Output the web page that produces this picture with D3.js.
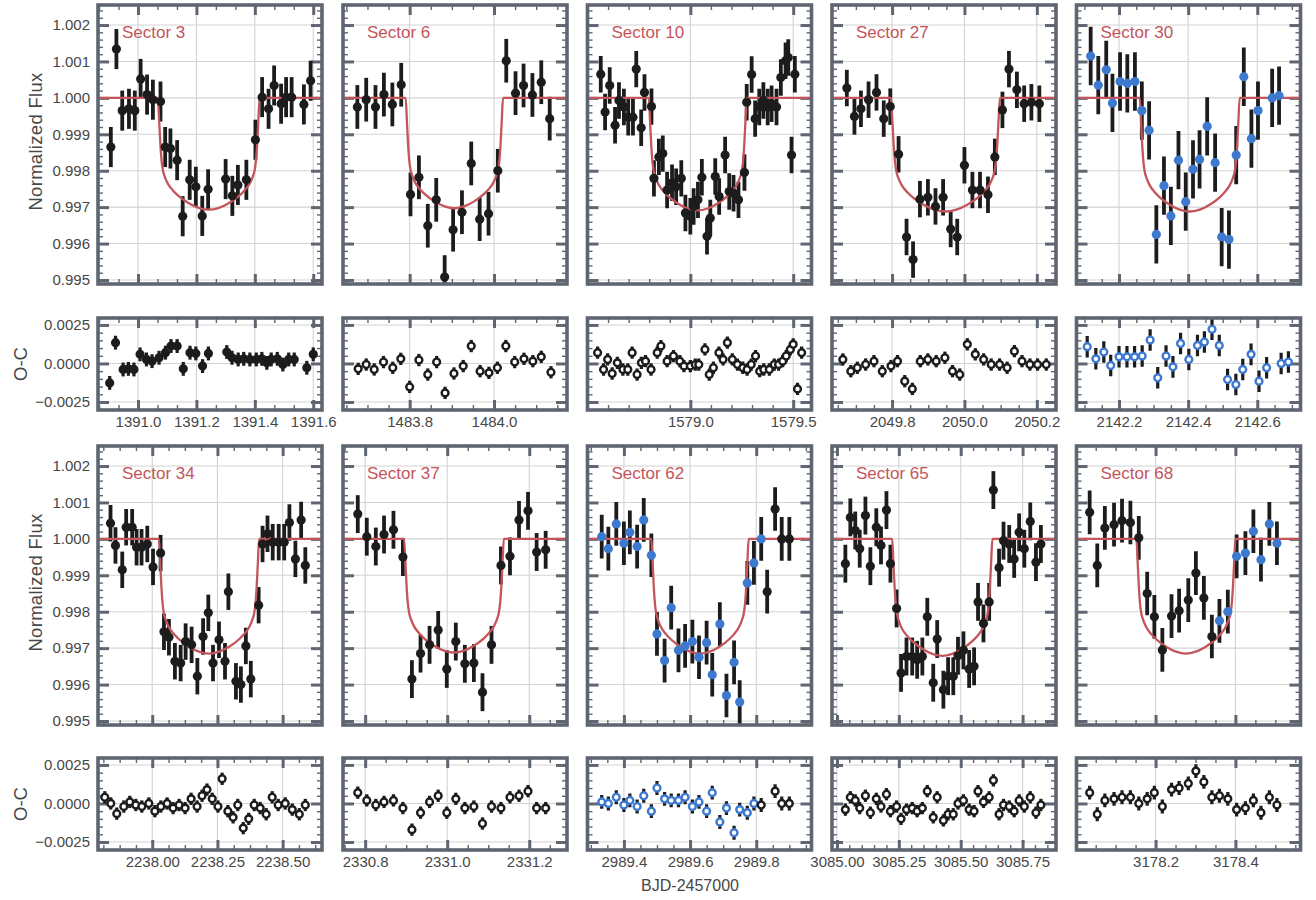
<!DOCTYPE html>
<html>
<head>
<meta charset="utf-8">
<script src="https://cdn.jsdelivr.net/npm/d3@7"></script>
<style>
  body { margin: 0; background: #fff; }
  svg text { font-family: "Liberation Sans", Arial, Helvetica, sans-serif; }
</style>
</head>
<body>
<svg id="chart" width="1316" height="900"></svg>
<script>
// ---- panel meta ----
const sectorNames = ["Sector 3", "Sector 6", "Sector 10", "Sector 27", "Sector 30",
                     "Sector 34", "Sector 37", "Sector 62", "Sector 65", "Sector 68"];

const xDomains = [[1390.863, 1391.63], [1483.642, 1484.173], [1578.5, 1579.589], [2049.634, 2050.253], [2142.077, 2142.725],
                  [2237.792, 2238.651], [2330.746, 2331.292], [2989.29, 2989.967], [3084.98, 3085.885], [3178.002, 3178.563]];

const xTickValues = [[1391.0, 1391.2, 1391.4, 1391.6], [1483.8, 1484.0], [1579.0, 1579.5], [2049.8, 2050.0, 2050.2], [2142.2, 2142.4, 2142.6],
                     [2238.0, 2238.25, 2238.5], [2330.8, 2331.0, 2331.2], [2989.4, 2989.6, 2989.8], [3085.0, 3085.25, 3085.5, 3085.75], [3178.2, 3178.4]];
const xTickDigits = [1, 1, 1, 1, 1, 2, 1, 1, 2, 1];
const xMinorStep = [0.2 / 3, 0.05, 0.1, 0.05, 0.05, 0.0625, 0.05, 0.05, 0.05, 0.05];

const fluxTicks = [0.995, 0.996, 0.997, 0.998, 0.999, 1.000, 1.001, 1.002];
const resTicks = [-0.0025, 0.0, 0.0025];

// transit model: ingress start, egress end, depth per sector
const transitStart = [1391.068, 1483.7905, 1578.798, 2049.797, 2142.260, 2238.0256, 2330.895, 2989.483, 3085.223, 3178.152];
const transitEnd   = [1391.4165, 1484.0213, 1579.274, 2050.098, 2142.549, 2238.410, 2331.138, 2989.777, 3085.628, 3178.40];
const transitDepth = [0.00307, 0.00303, 0.00309, 0.00312, 0.00312, 0.00315, 0.00312, 0.00315, 0.00321, 0.00315];
// shared shape of the model, phase -1..1 across the transit, fraction of depth
const modelPhase = [-1, -0.975, -0.95, -0.925, -0.9, -0.86, -0.8, -0.7, -0.6, -0.4, -0.2, 0, 0.2, 0.4, 0.6, 0.7, 0.8, 0.86, 0.9, 0.925, 0.95, 0.975, 1];
const modelShape = [0, 0.2, 0.42, 0.57, 0.65, 0.71, 0.77, 0.83, 0.875, 0.94, 0.983, 1, 0.983, 0.94, 0.875, 0.83, 0.77, 0.71, 0.65, 0.57, 0.42, 0.2, 0];

const fluxErr = [0.00055, 0.0006, 0.0005, 0.0005, 0.0008, 0.0005, 0.00052, 0.0006, 0.00052, 0.0006];
const resErr  = [0.00045, 0.0004, 0.0004, 0.0004, 0.0007, 0.0004, 0.0004, 0.00045, 0.0004, 0.00045];
const resFilled = [true, false, false, false, false, false, false, false, false, false];

// ---- light curves [time, flux, blue?] ----
const flux3 = [[1390.907,0.99865],[1390.926,1.00134],[1390.946,0.99965],[1390.969,0.99970],[1390.989,0.99965],[1391.009,1.00052],[1391.031,1.00009],[1391.051,0.99995],[1391.077,0.99990],[1391.093,0.99865],[1391.111,0.99861],[1391.134,0.99829],[1391.153,0.99675],[1391.177,0.99775],[1391.198,0.99756],[1391.220,0.99676],[1391.240,0.99749],[1391.300,0.99777],[1391.323,0.99731],[1391.342,0.99761],[1391.371,0.99775],[1391.402,0.99885],[1391.425,1.00002],[1391.447,0.99970],[1391.466,1.00034],[1391.490,0.99984],[1391.507,1.00002],[1391.526,1.00002],[1391.568,0.99982],[1391.591,1.00047]];
const flux6 = [[1483.676,0.99975],[1483.697,0.99995],[1483.719,0.99975],[1483.739,1.00009],[1483.759,0.99982],[1483.780,1.00036],[1483.802,0.99735],[1483.822,0.99782],[1483.843,0.99649],[1483.863,0.99720],[1483.883,0.99508],[1483.903,0.99638],[1483.924,0.99686],[1483.946,0.99820],[1483.966,0.99667],[1483.987,0.99682],[1484.009,0.99800],[1484.029,1.00102],[1484.051,1.00013],[1484.070,1.00034],[1484.091,1.00008],[1484.112,1.00043],[1484.132,0.99943]];
const flux10 = [[1578.5645,1.00065],[1578.5855,0.99961],[1578.608,1.00034],[1578.634,0.99925],[1578.653,0.99993],[1578.677,0.99975],[1578.698,0.99947],[1578.721,0.99947],[1578.737,1.00079],[1578.761,0.99918],[1578.777,1.00015],[1578.811,0.99976],[1578.823,0.99779],[1578.847,0.99838],[1578.866,0.99847],[1578.887,0.99747],[1578.911,0.99767],[1578.931,0.99756],[1578.956,0.99779],[1578.976,0.99684],[1579.000,0.99675],[1579.016,0.99702],[1579.037,0.99720],[1579.056,0.99782],[1579.081,0.99620],[1579.097,0.99670],[1579.121,0.99784],[1579.140,0.99729],[1579.169,0.99843],[1579.189,0.99743],[1579.210,0.99738],[1579.234,0.99720],[1579.263,0.99795],[1579.274,0.99988],[1579.298,1.00064],[1579.315,0.99943],[1579.335,0.99975],[1579.355,0.99993],[1579.376,0.99975],[1579.395,0.99984],[1579.419,0.99975],[1579.440,1.00056],[1579.463,1.00102],[1579.476,1.00111],[1579.492,0.99843],[1579.508,1.00065]];
const flux27 = [[2049.675,1.00027],[2049.696,0.99949],[2049.714,0.99970],[2049.735,0.99995],[2049.757,1.00015],[2049.777,0.99943],[2049.795,0.99976],[2049.818,0.99845],[2049.840,0.99618],[2049.858,0.99556],[2049.877,0.99722],[2049.899,0.99727],[2049.920,0.99702],[2049.941,0.99727],[2049.962,0.99640],[2049.980,0.99618],[2050.000,0.99815],[2050.022,0.99747],[2050.043,0.99747],[2050.065,0.99734],[2050.084,0.99838],[2050.105,0.99967],[2050.123,1.00079],[2050.145,1.00022],[2050.165,0.99984],[2050.185,0.99988],[2050.207,0.99984]];
const flux30 = [[2142.118,1.00115,1],[2142.140,1.00035,1],[2142.163,1.00077,1],[2142.181,0.99986,1],[2142.203,1.00045,1],[2142.224,1.00040,1],[2142.246,1.00045,1],[2142.266,0.99965,1],[2142.287,0.99911,1],[2142.308,0.99625,1],[2142.330,0.99759,1],[2142.350,0.99676,1],[2142.372,0.99829,1],[2142.393,0.99715,1],[2142.414,0.99804,1],[2142.433,0.99831,1],[2142.455,0.99922,1],[2142.478,0.99822,1],[2142.497,0.99618,1],[2142.518,0.99611,1],[2142.539,0.99843,1],[2142.561,1.00058,1],[2142.583,0.99888,1],[2142.602,0.99965,1],[2142.643,1.00000,1],[2142.663,1.00006,1]];
const flux34 = [[2237.840,1.00043],[2237.859,0.99982],[2237.885,0.99915],[2237.900,1.00032],[2237.923,1.00032],[2237.940,0.99977],[2237.959,0.99977],[2237.981,0.99986],[2238.003,0.99923],[2238.032,0.99961],[2238.045,0.99745],[2238.064,0.99730],[2238.087,0.99664],[2238.109,0.99659],[2238.128,0.99718],[2238.151,0.99709],[2238.173,0.99623],[2238.195,0.99732],[2238.215,0.99797],[2238.233,0.99659],[2238.256,0.99723],[2238.279,0.99664],[2238.292,0.99855],[2238.321,0.99609],[2238.340,0.99600],[2238.359,0.99706],[2238.378,0.99615],[2238.408,0.99818],[2238.423,0.99986],[2238.442,1.00014],[2238.462,0.99991],[2238.485,0.99991],[2238.506,0.99991],[2238.526,1.00045],[2238.549,0.99945],[2238.571,1.00052],[2238.587,0.99927]];
const flux37 = [[2330.782,1.00068],[2330.804,1.00006],[2330.826,0.99979],[2330.846,1.00012],[2330.869,1.00025],[2330.892,0.99950],[2330.914,0.99615],[2330.935,0.99685],[2330.957,0.99709],[2330.978,0.99750],[2330.999,0.99643],[2331.021,0.99718],[2331.043,0.99657],[2331.065,0.99659],[2331.086,0.99579],[2331.108,0.99709],[2331.131,0.99927],[2331.153,0.99952],[2331.175,1.00052],[2331.197,1.00077],[2331.218,0.99964],[2331.240,0.99970]];
const flux62 = [[2989.333,1.00006,1],[2989.353,0.99973,1],[2989.377,1.00041,1],[2989.400,0.99988,1],[2989.418,1.00018,1],[2989.440,0.99979,1],[2989.460,1.00052,1],[2989.483,0.99955,1],[2989.500,0.99739,1],[2989.523,0.99666,1],[2989.543,0.99811,1],[2989.565,0.99694,1],[2989.585,0.99706,1],[2989.607,0.99718,1],[2989.627,0.99675,1],[2989.650,0.99715,1],[2989.667,0.99627,1],[2989.690,0.99766,1],[2989.710,0.99570,1],[2989.733,0.99661,1],[2989.750,0.99552,1],[2989.773,0.99879,1],[2989.793,0.99934,1],[2989.815,1.00000,1],[2989.833,0.99855,0],[2989.857,1.00082,0],[2989.877,1.00000,0],[2989.900,1.00000,0]];
const flux65 = [[3085.034,0.99932],[3085.054,1.00059],[3085.074,1.00023],[3085.092,0.99973],[3085.115,1.00064],[3085.135,0.99925],[3085.159,1.00032],[3085.178,0.99982],[3085.200,1.00079],[3085.216,0.99932],[3085.241,0.99809],[3085.259,0.99632],[3085.281,0.99677],[3085.304,0.99677],[3085.324,0.99668],[3085.345,0.99677],[3085.365,0.99786],[3085.389,0.99605],[3085.405,0.99725],[3085.430,0.99586],[3085.449,0.99623],[3085.470,0.99623],[3085.489,0.99679],[3085.511,0.99694],[3085.534,0.99643],[3085.554,0.99650],[3085.570,0.99827],[3085.592,0.99768],[3085.615,0.99827],[3085.632,1.00134],[3085.655,0.99921],[3085.673,0.99995],[3085.696,0.99986],[3085.716,0.99945],[3085.736,1.00018],[3085.757,0.99973],[3085.781,1.00048],[3085.804,0.99936],[3085.824,0.99986]];
const flux68 = [[3178.035,1.00073,0],[3178.054,0.99927,0],[3178.073,1.00030,0],[3178.096,1.00039,0],[3178.116,1.00050,0],[3178.137,1.00045,0],[3178.158,1.00003,0],[3178.179,0.99850,0],[3178.197,0.99786,0],[3178.217,0.99695,0],[3178.240,0.99788,0],[3178.259,0.99803,0],[3178.282,0.99832,0],[3178.301,0.99906,0],[3178.321,0.99838,0],[3178.341,0.99732,0],[3178.360,0.99775,1],[3178.381,0.99800,1],[3178.403,0.99952,1],[3178.425,0.99961,1],[3178.445,1.00021,1],[3178.464,0.99943,1],[3178.485,1.00041,1],[3178.504,0.99988,1]];

// ---- residuals O-C [time, residual, blue?] ----
const res3 = [[1390.903,-0.00126],[1390.923,0.00135],[1390.949,-0.00039],[1390.967,-0.00035],[1390.986,-0.00039],[1391.007,0.00059],[1391.029,0.00026],[1391.048,0.00015],[1391.072,0.00037],[1391.094,0.00070],[1391.113,0.00113],[1391.134,0.00113],[1391.155,-0.00035],[1391.178,0.00070],[1391.198,0.00065],[1391.221,-0.00017],[1391.241,0.00065],[1391.304,0.00074],[1391.322,0.00037],[1391.343,0.00026],[1391.362,0.00030],[1391.383,0.00026],[1391.405,0.00026],[1391.424,0.00030],[1391.441,0.00004],[1391.456,0.00026],[1391.477,0.00030],[1391.496,-0.00007],[1391.516,0.00026],[1391.535,0.00026],[1391.578,-0.00028],[1391.600,0.00059]];
const res6 = [[1483.678,-0.00035],[1483.697,-0.00007],[1483.716,-0.00039],[1483.738,0.00009],[1483.760,-0.00028],[1483.779,0.00030],[1483.800,-0.00152],[1483.822,0.00022],[1483.843,-0.00072],[1483.864,0.00009],[1483.884,-0.00191],[1483.905,-0.00065],[1483.927,-0.00017],[1483.946,0.00113],[1483.967,-0.00050],[1483.988,-0.00061],[1484.008,-0.00028],[1484.028,0.00113],[1484.049,0.00009],[1484.071,0.00030],[1484.092,0.00015],[1484.112,0.00043],[1484.135,-0.00057]];
const res10 = [[1578.549,0.00070],[1578.578,-0.00039],[1578.598,0.00026],[1578.620,-0.00065],[1578.645,0.00004],[1578.672,-0.00039],[1578.696,-0.00039],[1578.717,0.00070],[1578.741,-0.00072],[1578.762,0.00004],[1578.782,0.00015],[1578.809,-0.00039],[1578.839,0.00070],[1578.857,0.00113],[1578.887,0.00015],[1578.918,0.00048],[1578.949,0.00015],[1578.969,-0.00017],[1579.000,-0.00017],[1579.024,-0.00007],[1579.041,-0.00007],[1579.071,0.00091],[1579.092,-0.00072],[1579.112,-0.00028],[1579.139,0.00070],[1579.159,0.00026],[1579.180,0.00135],[1579.204,0.00026],[1579.229,-0.00007],[1579.255,-0.00028],[1579.276,-0.00039],[1579.296,-0.00007],[1579.317,0.00048],[1579.337,-0.00050],[1579.357,-0.00039],[1579.384,-0.00039],[1579.408,-0.00007],[1579.429,-0.00007],[1579.449,0.00015],[1579.466,0.00048],[1579.486,0.00091],[1579.500,0.00124],[1579.521,-0.00165],[1579.541,0.00070]];
const res27 = [[2049.664,0.00026],[2049.686,-0.00050],[2049.704,-0.00028],[2049.727,-0.00007],[2049.750,0.00015],[2049.773,-0.00050],[2049.797,-0.00017],[2049.815,0.00015],[2049.835,-0.00115],[2049.856,-0.00165],[2049.878,0.00015],[2049.899,0.00026],[2049.922,0.00015],[2049.946,0.00037],[2049.967,-0.00050],[2049.987,-0.00072],[2050.008,0.00124],[2050.030,0.00059],[2050.053,0.00026],[2050.074,-0.00007],[2050.097,-0.00007],[2050.118,-0.00028],[2050.138,0.00080],[2050.159,0.00015],[2050.181,-0.00007],[2050.202,-0.00007],[2050.226,-0.00007]];
const res30 = [[2142.108,0.00109,1],[2142.133,0.00030,1],[2142.156,0.00074,1],[2142.176,-0.00013,1],[2142.200,0.00043,1],[2142.223,0.00043,1],[2142.245,0.00043,1],[2142.267,0.00048,1],[2142.290,0.00152,1],[2142.312,-0.00093,1],[2142.336,0.00048,1],[2142.356,-0.00022,1],[2142.378,0.00130,1],[2142.402,0.00026,1],[2142.427,0.00117,1],[2142.447,0.00139,1],[2142.469,0.00222,1],[2142.490,0.00117,1],[2142.514,-0.00104,1],[2142.538,-0.00137,1],[2142.558,-0.00039,1],[2142.582,0.00059,1],[2142.605,-0.00115,1],[2142.627,-0.00028,1],[2142.669,0.00000,1],[2142.690,0.00009,1]];
const res34 = [[2237.818,0.0004],[2237.841,0.0],[2237.864,-0.00066],[2237.891,-0.0002],[2237.914,0.0001],[2237.937,-0.0001],[2237.960,-0.0002],[2237.987,0.0],[2238.010,-0.0005],[2238.033,-0.0002],[2238.057,0.0],[2238.080,-0.0003],[2238.103,-0.0001],[2238.126,-0.0003],[2238.149,0.0003],[2238.172,-0.0002],[2238.191,0.0005],[2238.210,0.0009],[2238.230,0.0003],[2238.252,-0.0002],[2238.268,0.0016],[2238.290,-0.0005],[2238.310,-0.0009],[2238.328,-0.0001],[2238.349,-0.0016],[2238.370,-0.0010],[2238.391,-0.0001],[2238.414,-0.0003],[2238.437,-0.0007],[2238.460,0.0004],[2238.483,-0.0001],[2238.510,0.0000],[2238.537,-0.0004],[2238.564,-0.0007],[2238.587,-0.0001]];
const res37 = [[2330.782,0.0007],[2330.804,0.0002],[2330.826,-0.0001],[2330.846,0.0001],[2330.869,0.0002],[2330.892,-0.0003],[2330.914,-0.0017],[2330.935,-0.0006],[2330.957,0.0001],[2330.978,0.0005],[2330.999,-0.0006],[2331.021,0.0003],[2331.043,-0.0003],[2331.065,-0.0002],[2331.086,-0.0013],[2331.108,-0.0002],[2331.131,-0.0003],[2331.153,0.0004],[2331.175,0.0005],[2331.197,0.0008],[2331.218,-0.0003],[2331.240,-0.0003]];
const res62 = [[2989.333,0.0001,1],[2989.353,0.0,1],[2989.377,0.0004,1],[2989.400,-0.0001,1],[2989.418,0.0002,1],[2989.440,-0.0002,1],[2989.460,0.0005,1],[2989.483,-0.0005,1],[2989.500,0.0010,1],[2989.523,0.0003,1],[2989.543,0.0002,1],[2989.565,0.0002,1],[2989.585,0.0004,1],[2989.607,-0.0002,1],[2989.627,0.0001,1],[2989.650,-0.0005,1],[2989.667,0.0007,1],[2989.690,-0.0012,1],[2989.710,-0.0003,1],[2989.733,-0.0019,1],[2989.750,-0.0004,1],[2989.773,-0.0006,1],[2989.793,0.0000,1],[2989.815,-0.0001,0],[2989.857,0.0008,0],[2989.877,0.0000,0],[2989.900,0.0000,0]];
const res65 = [[3085.034,-0.0004],[3085.054,0.0004],[3085.074,0.0002],[3085.092,-0.0003],[3085.115,0.0005],[3085.135,-0.0006],[3085.159,0.0003],[3085.178,-0.0002],[3085.200,0.0006],[3085.216,-0.0005],[3085.241,-0.0002],[3085.259,-0.0010],[3085.281,-0.0004],[3085.304,-0.0003],[3085.324,-0.0005],[3085.345,-0.0003],[3085.365,0.0008],[3085.389,-0.0009],[3085.405,0.0004],[3085.430,-0.0011],[3085.449,-0.0007],[3085.470,-0.0007],[3085.489,0.0000],[3085.511,0.0002],[3085.534,-0.0004],[3085.554,-0.0005],[3085.570,0.0008],[3085.592,0.0001],[3085.615,0.0004],[3085.632,0.0015],[3085.655,-0.0007],[3085.673,-0.0001],[3085.696,-0.0002],[3085.716,-0.0005],[3085.736,0.0002],[3085.757,-0.0002],[3085.781,0.0004],[3085.804,-0.0006],[3085.824,-0.0001]];
const res68 = [[3178.035,0.0007],[3178.054,-0.0007],[3178.073,0.0002],[3178.096,0.0003],[3178.116,0.0004],[3178.137,0.0004],[3178.158,0.0000],[3178.179,0.0003],[3178.197,0.0007],[3178.217,-0.0002],[3178.240,0.0009],[3178.259,0.0010],[3178.282,0.0013],[3178.301,0.0021],[3178.321,0.0014],[3178.341,0.0004],[3178.360,0.0005],[3178.381,0.0003],[3178.403,-0.0004],[3178.425,-0.0003],[3178.445,0.0002],[3178.464,-0.0006],[3178.485,0.0004],[3178.504,-0.0001]];

const fluxSets = [flux3, flux6, flux10, flux27, flux30, flux34, flux37, flux62, flux65, flux68];
const resSets = [res3, res6, res10, res27, res30, res34, res37, res62, res65, res68];

// ---- layout ----
const panelLeft = [98, 343, 587.5, 832, 1076.5];
const panelW = 224;
const fluxTop = [5, 446], fluxH = 279;
const resTop = [318, 758], resH = 92;

const frameColor = "#5f6671";
const gridColor = "#d3d3d3";
const modelColor = "#c4555a";
const blackPt = "#1c1c1c";
const bluePt = "#3c79cf";
const textColor = "#474747";

const svg = d3.select("#chart");

const yFlux = d3.scaleLinear().domain([0.99489, 1.00255]).range([fluxH, 0]);
const yRes = d3.scaleLinear().domain([-0.00302, 0.00295]).range([resH, 0]);

function minorValues(domain, anchor, step) {
  const k0 = Math.ceil((domain[0] - anchor) / step - 1e-6);
  const k1 = Math.floor((domain[1] - anchor) / step + 1e-6);
  return d3.range(k0, k1 + 1).map(k => anchor + k * step);
}

function styleAxis(sel, width) {
  sel.select(".domain").remove();
  sel.selectAll(".tick line").attr("stroke", frameColor).attr("stroke-width", width);
  sel.selectAll(".tick text").attr("fill", textColor).attr("font-size", 15);
}

function drawPanel(i, top, h, y, yMajor, yMinorStep, yFmt, isRes) {
  const col = i % 5;
  const left = panelLeft[col];
  const x = d3.scaleLinear().domain(xDomains[i]).range([0, panelW]);
  const g = svg.append("g").attr("transform", `translate(${left},${top})`);
  const clipId = `clip-${i}-${isRes ? "r" : "f"}`;
  g.append("clipPath").attr("id", clipId)
    .append("rect").attr("width", panelW).attr("height", h);

  // grid
  const grid = g.append("g").attr("clip-path", `url(#${clipId})`);
  grid.selectAll("line.gx").data(xTickValues[i]).join("line")
    .attr("x1", d => x(d)).attr("x2", d => x(d)).attr("y1", 0).attr("y2", h)
    .attr("stroke", gridColor).attr("stroke-width", 1.1);
  grid.selectAll("line.gy").data(yMajor).join("line")
    .attr("y1", d => y(d)).attr("y2", d => y(d)).attr("x1", 0).attr("x2", panelW)
    .attr("stroke", gridColor).attr("stroke-width", 1.1);

  // ticks on all four sides, pointing in
  const xMinor = minorValues(xDomains[i], xTickValues[i][0], xMinorStep[i]);
  const yMinor = minorValues(y.domain(), 0, yMinorStep);
  const fmtX = d3.format(`.${xTickDigits[i]}f`);

  const axes = [
    g.append("g").attr("transform", `translate(0,${h})`)
      .call(d3.axisBottom(x).tickValues(xMinor).tickSize(-5).tickFormat("")),
    g.append("g").call(d3.axisTop(x).tickValues(xMinor).tickSize(-5).tickFormat("")),
    g.append("g").call(d3.axisLeft(y).tickValues(yMinor).tickSize(-5).tickFormat("")),
    g.append("g").attr("transform", `translate(${panelW},0)`)
      .call(d3.axisRight(y).tickValues(yMinor).tickSize(-5).tickFormat(""))
  ];
  axes.forEach(a => styleAxis(a, 1.4));

  const majors = [
    g.append("g").attr("transform", `translate(0,${h})`)
      .call(d3.axisBottom(x).tickValues(xTickValues[i]).tickSize(-10).tickPadding(6)
        .tickFormat(isRes ? fmtX : "")),
    g.append("g").call(d3.axisTop(x).tickValues(xTickValues[i]).tickSize(-10).tickFormat("")),
    g.append("g").call(d3.axisLeft(y).tickValues(yMajor).tickSize(-11).tickPadding(8)
        .tickFormat(col === 0 ? yFmt : "")),
    g.append("g").attr("transform", `translate(${panelW},0)`)
      .call(d3.axisRight(y).tickValues(yMajor).tickSize(-11).tickFormat(""))
  ];
  majors.forEach(a => styleAxis(a, 3));

  const plot = g.append("g").attr("clip-path", `url(#${clipId})`);
  return { g, plot, x };
}

sectorNames.forEach((name, i) => {
  const row = Math.floor(i / 5);

  // ---- flux panel ----
  const fp = drawPanel(i, fluxTop[row], fluxH, yFlux, fluxTicks, 0.0002, d3.format(".3f"), false);
  const x = fp.x;

  const mid = (transitStart[i] + transitEnd[i]) / 2;
  const half = (transitEnd[i] - transitStart[i]) / 2;
  const modelPts = [[xDomains[i][0], 1]]
    .concat(modelPhase.map((u, k) => [mid + u * half, 1 - transitDepth[i] * modelShape[k]]))
    .concat([[xDomains[i][1], 1]]);
  const line = d3.line().x(d => x(d[0])).y(d => yFlux(d[1])).curve(d3.curveMonotoneX);

  const pts = fluxSets[i];
  const e = fluxErr[i];
  fp.plot.selectAll("line.err").data(pts).join("line")
    .attr("x1", d => x(d[0])).attr("x2", d => x(d[0]))
    .attr("y1", d => yFlux(d[1] - e)).attr("y2", d => yFlux(d[1] + e))
    .attr("stroke", blackPt).attr("stroke-width", 3.8);
  fp.plot.append("path").datum(modelPts).attr("d", line)
    .attr("fill", "none").attr("stroke", modelColor).attr("stroke-width", 2.3);
  fp.plot.selectAll("circle").data(pts).join("circle")
    .attr("cx", d => x(d[0])).attr("cy", d => yFlux(d[1])).attr("r", 4.6)
    .attr("fill", d => d[2] ? bluePt : blackPt);

  fp.g.append("rect").attr("width", panelW).attr("height", fluxH)
    .attr("fill", "none").attr("stroke", frameColor).attr("stroke-width", 3.6);
  fp.g.append("text").attr("x", 24).attr("y", 33).text(name)
    .attr("fill", modelColor).attr("font-size", 17);

  // ---- residual panel ----
  const rp = drawPanel(i, resTop[row], resH, yRes, resTicks, 0.0005, d3.format(".4f"), true);
  const rpts = resSets[i];
  const re = resErr[i];
  rp.plot.selectAll("line.err").data(rpts).join("line")
    .attr("x1", d => x(d[0])).attr("x2", d => x(d[0]))
    .attr("y1", d => yRes(d[1] - re)).attr("y2", d => yRes(d[1] + re))
    .attr("stroke", blackPt).attr("stroke-width", 3.2);
  rp.plot.selectAll("circle").data(rpts).join("circle")
    .attr("cx", d => x(d[0])).attr("cy", d => yRes(d[1])).attr("r", 3.4)
    .attr("fill", resFilled[i] ? blackPt : "#fff")
    .attr("stroke", d => d[2] ? bluePt : blackPt).attr("stroke-width", 2.4);
  rp.g.append("rect").attr("width", panelW).attr("height", resH)
    .attr("fill", "none").attr("stroke", frameColor).attr("stroke-width", 3.6);
});

// ---- axis titles ----
[0, 1].forEach(row => {
  svg.append("text")
    .attr("transform", `translate(42,${fluxTop[row] + fluxH / 2 - 3}) rotate(-90)`)
    .attr("text-anchor", "middle").attr("fill", textColor).attr("font-size", 18.5)
    .attr("letter-spacing", 0.3)
    .text("Normalized Flux");
  svg.append("text")
    .attr("transform", `translate(27,${resTop[row] + resH / 2}) rotate(-90)`)
    .attr("text-anchor", "middle").attr("fill", textColor).attr("font-size", 18.5)
    .text("O-C");
});
svg.append("text").attr("x", 690).attr("y", 891)
  .attr("text-anchor", "middle").attr("fill", textColor).attr("font-size", 16)
  .text("BJD-2457000");
</script>
</body>
</html>
